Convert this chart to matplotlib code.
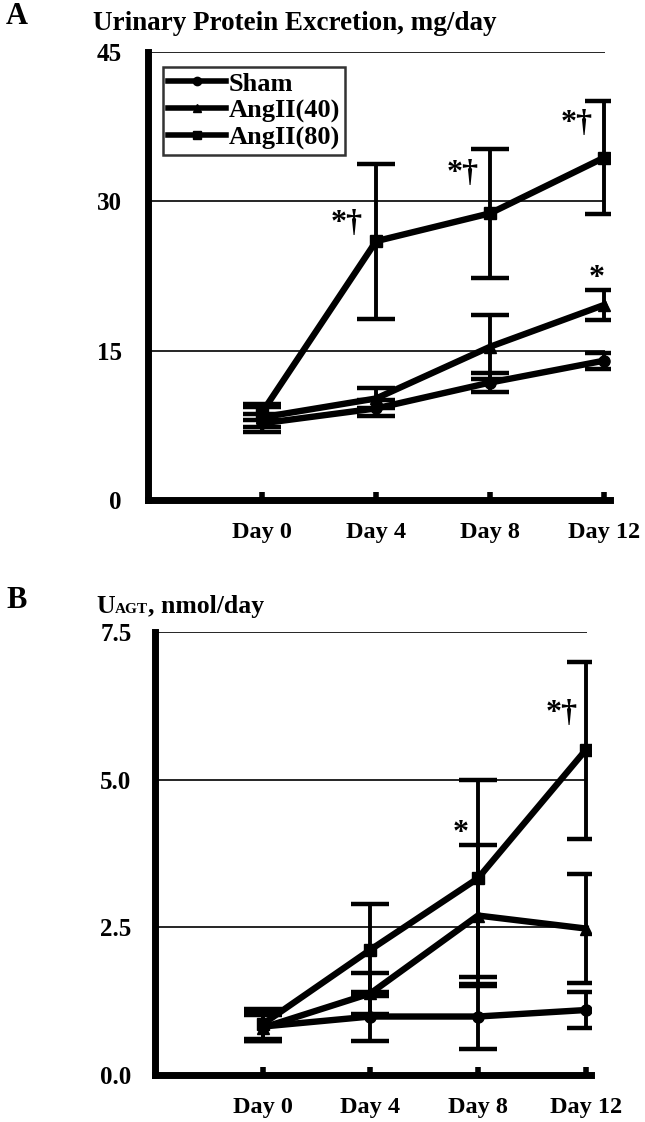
import matplotlib.pyplot as plt
from matplotlib.lines import Line2D
import numpy as np

plt.rcParams['font.family'] = ['Liberation Serif', 'DejaVu Serif']
plt.rcParams['font.weight'] = 'bold'

# ── data ─────────────────────────────
days = ['Day 0', 'Day 4', 'Day 8', 'Day 12']
groups = ['Sham', 'AngII(40)', 'AngII(80)']
markers = ['o', '^', 's']

# panel A : urinary protein, mg/day
prot_sham = [7.7, 9.2, 11.8, 14.0]
prot_sham_err = [0.9, 0.8, 1.0, 0.8]
prot_40 = [8.3, 10.2, 15.4, 19.6]
prot_40_err = [1.0, 1.0, 3.2, 1.5]
prot_80 = [8.8, 26.0, 28.8, 34.4]
prot_80_err = [0.8, 7.8, 6.5, 5.7]

# panel B : U_AGT, nmol/day
agt_sham = [0.82, 0.99, 0.99, 1.10]
agt_sham_err = [0.25, 0.42, 0.55, 0.30]
agt_40 = [0.80, 1.38, 2.70, 2.48]
agt_40_err = [0.22, 0.35, 1.20, 0.92]
agt_80 = [0.86, 2.12, 3.33, 5.50]
agt_80_err = [0.25, 0.78, 1.67, 1.50]

W, H = 645, 1122
fig = plt.figure(figsize=(W / 100, H / 100), dpi=100)
fig.patch.set_facecolor('white')


def px_axes(x0, y0, x1, y1):
    return fig.add_axes([x0 / W, 1 - y1 / H, (x1 - x0) / W, (y1 - y0) / H])


axA = px_axes(148, 52, 610, 500)
axB = px_axes(155, 632, 591, 1075)

x = np.arange(1, 5)


def draw_panel(ax, series, ymax, yticks, ylabels, ypad):
    for (vals, errs), mk in zip(series, markers):
        ax.errorbar(x, vals, yerr=errs, color='black', lw=4.6,
                    marker=mk, ms=8, elinewidth=2.8, capsize=14,
                    capthick=3.2, zorder=3)
    ax.set_xlim(0, 4.05)
    ax.set_ylim(0, ymax)
    ax.hlines(yticks[1:], 0, 4.01, color='black', lw=1.2, zorder=1)
    ax.set_yticks(yticks)
    ax.set_yticklabels(ylabels, fontsize=18, fontweight='bold')
    ax.set_xticks(x)
    ax.set_xticklabels(days, fontsize=17.5, fontweight='bold')
    ax.tick_params(axis='x', direction='in', length=6, width=4, pad=16)
    ax.tick_params(axis='y', length=0, pad=ypad)
    for s in ['top', 'right']:
        ax.spines[s].set_visible(False)
    ax.spines['left'].set_linewidth(5)
    ax.spines['bottom'].set_linewidth(5)
    ax.set_facecolor('none')


draw_panel(axA, [(prot_sham, prot_sham_err), (prot_40, prot_40_err),
                 (prot_80, prot_80_err)], 45, [0, 15, 30, 45],
           ['0', '15', '30', '45'], 19)
draw_panel(axB, [(agt_sham, agt_sham_err), (agt_40, agt_40_err),
                 (agt_80, agt_80_err)], 7.5, [0, 2.5, 5.0, 7.5],
           ['0.0', '2.5', '5.0', '7.5'], 17)

handles = [Line2D([], [], color='black', lw=4, marker=m, ms=6)
           for m in markers]
leg = axA.legend(handles, groups, loc='upper left',
                 bbox_to_anchor=(0.032, 0.967), frameon=True,
                 fancybox=False, edgecolor='black',
                 prop={'size': 19, 'weight': 'bold'}, handlelength=2.2,
                 handletextpad=0.1, borderpad=0.2, labelspacing=0.12,
                 borderaxespad=0)
leg.get_frame().set_linewidth(1.8)

# significance marks
star_kw = dict(ha='center', va='center', fontsize=23)
axA.text(1.74, 27.8, '*†', **star_kw)
axA.text(2.76, 32.8, '*†', **star_kw)
axA.text(3.76, 37.8, '*†', **star_kw)
axA.text(3.93, 22.2, '*', **star_kw)
axB.text(2.84, 4.09, '*', **star_kw)
axB.text(3.78, 6.12, '*†', **star_kw)

# panel letters and titles
fig.text(17 / W, 1 - 17 / H, 'A', fontsize=22, fontweight='bold',
         ha='center', va='center')
fig.text(17 / W, 1 - 600 / H, 'B', fontsize=22, fontweight='bold',
         ha='center', va='center')
fig.text(93 / W, 1 - 30 / H, 'Urinary Protein Excretion, mg/day',
         fontsize=19.5, fontweight='bold', ha='left', va='baseline')
fig.text(96 / W, 1 - 613 / H, 'U', fontsize=18.5, fontweight='bold',
         ha='left', va='baseline')
fig.text(115 / W, 1 - 613 / H, 'AGT', fontsize=11, fontweight='bold',
         ha='left', va='baseline')
fig.text(148 / W, 1 - 613 / H, ', nmol/day', fontsize=18.5,
         fontweight='bold', ha='left', va='baseline')

fig.savefig('out.png', dpi=100, facecolor='white')
